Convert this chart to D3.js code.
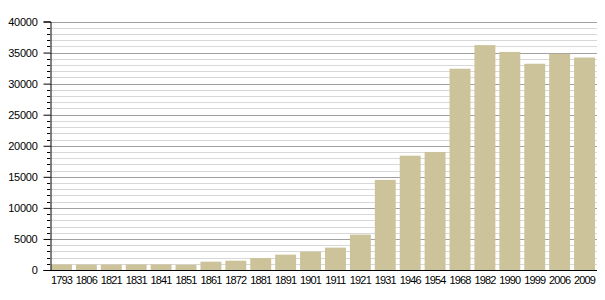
<!DOCTYPE html>
<html><head><meta charset="utf-8">
<script src="https://cdn.jsdelivr.net/npm/d3@7"></script>
<style>body{margin:0;background:#fff}svg{display:block}text{font-family:"Liberation Sans",Arial,sans-serif}</style>
</head><body><svg id="c" width="605" height="300"></svg>
<script>
const years = ["1793","1806","1821","1831","1841","1851","1861","1872","1881","1891","1901","1911","1921","1931","1946","1954","1968","1982","1990","1999","2006","2009"];
const population = [900,880,880,900,900,850,1340,1500,1930,2470,2950,3600,5700,14500,18400,19000,32400,36200,35100,33200,34800,34200];
const yTicks = [0,5000,10000,15000,20000,25000,30000,35000,40000];

const svg = d3.select("#c");
const L = 50, R = 596, T = 21.5, B = 270;
const x = d3.scaleBand().domain(years).range([L, R]).paddingInner(0.16).paddingOuter(0.04);
const y = d3.scaleLinear().domain([0, 40000]).range([B, T]);

const minor = d3.range(0, 40001, 1000);
svg.append("g").selectAll("line").data(minor).join("line")
  .attr("x1", L).attr("x2", R + 1)
  .attr("y1", d => Math.round(y(d)) + 0.5).attr("y2", d => Math.round(y(d)) + 0.5)
  .attr("stroke", d => d % 5000 === 0 ? "#a0a0a0" : "#d8d8d8").attr("stroke-width", 1);

svg.append("g").selectAll("rect").data(population).join("rect")
  .attr("x", (d, i) => x(years[i])).attr("width", x.bandwidth())
  .attr("y", d => y(d)).attr("height", d => B - y(d))
  .attr("fill", "#ccc39b");

// y axis
const ya = svg.append("g").attr("transform", `translate(${L + 0.5},0)`)
  .call(d3.axisLeft(y).tickValues(yTicks).tickFormat(d3.format("d")).tickSize(7).tickPadding(6));
ya.select(".domain").attr("stroke", "#000");
ya.selectAll("text").attr("font-size", 11).attr("letter-spacing", -0.25).attr("fill", "#000");
ya.selectAll(".tick line").attr("stroke", "#000");
svg.append("g").selectAll("line").data(minor.filter(d => d % 5000 !== 0)).join("line")
  .attr("x1", L - 3).attr("x2", L)
  .attr("y1", d => Math.round(y(d)) + 0.5).attr("y2", d => Math.round(y(d)) + 0.5)
  .attr("stroke", "#000");

// x axis
const xa = svg.append("g").attr("transform", `translate(0,${B + 0.5})`)
  .call(d3.axisBottom(x).tickSize(0).tickPadding(6));
xa.select(".domain").attr("stroke", "#000").attr("d", `M${L},0H${R + 1}`);
xa.selectAll("text").attr("font-size", 11).attr("letter-spacing", -0.85).attr("fill", "#000");
</script></body></html>
